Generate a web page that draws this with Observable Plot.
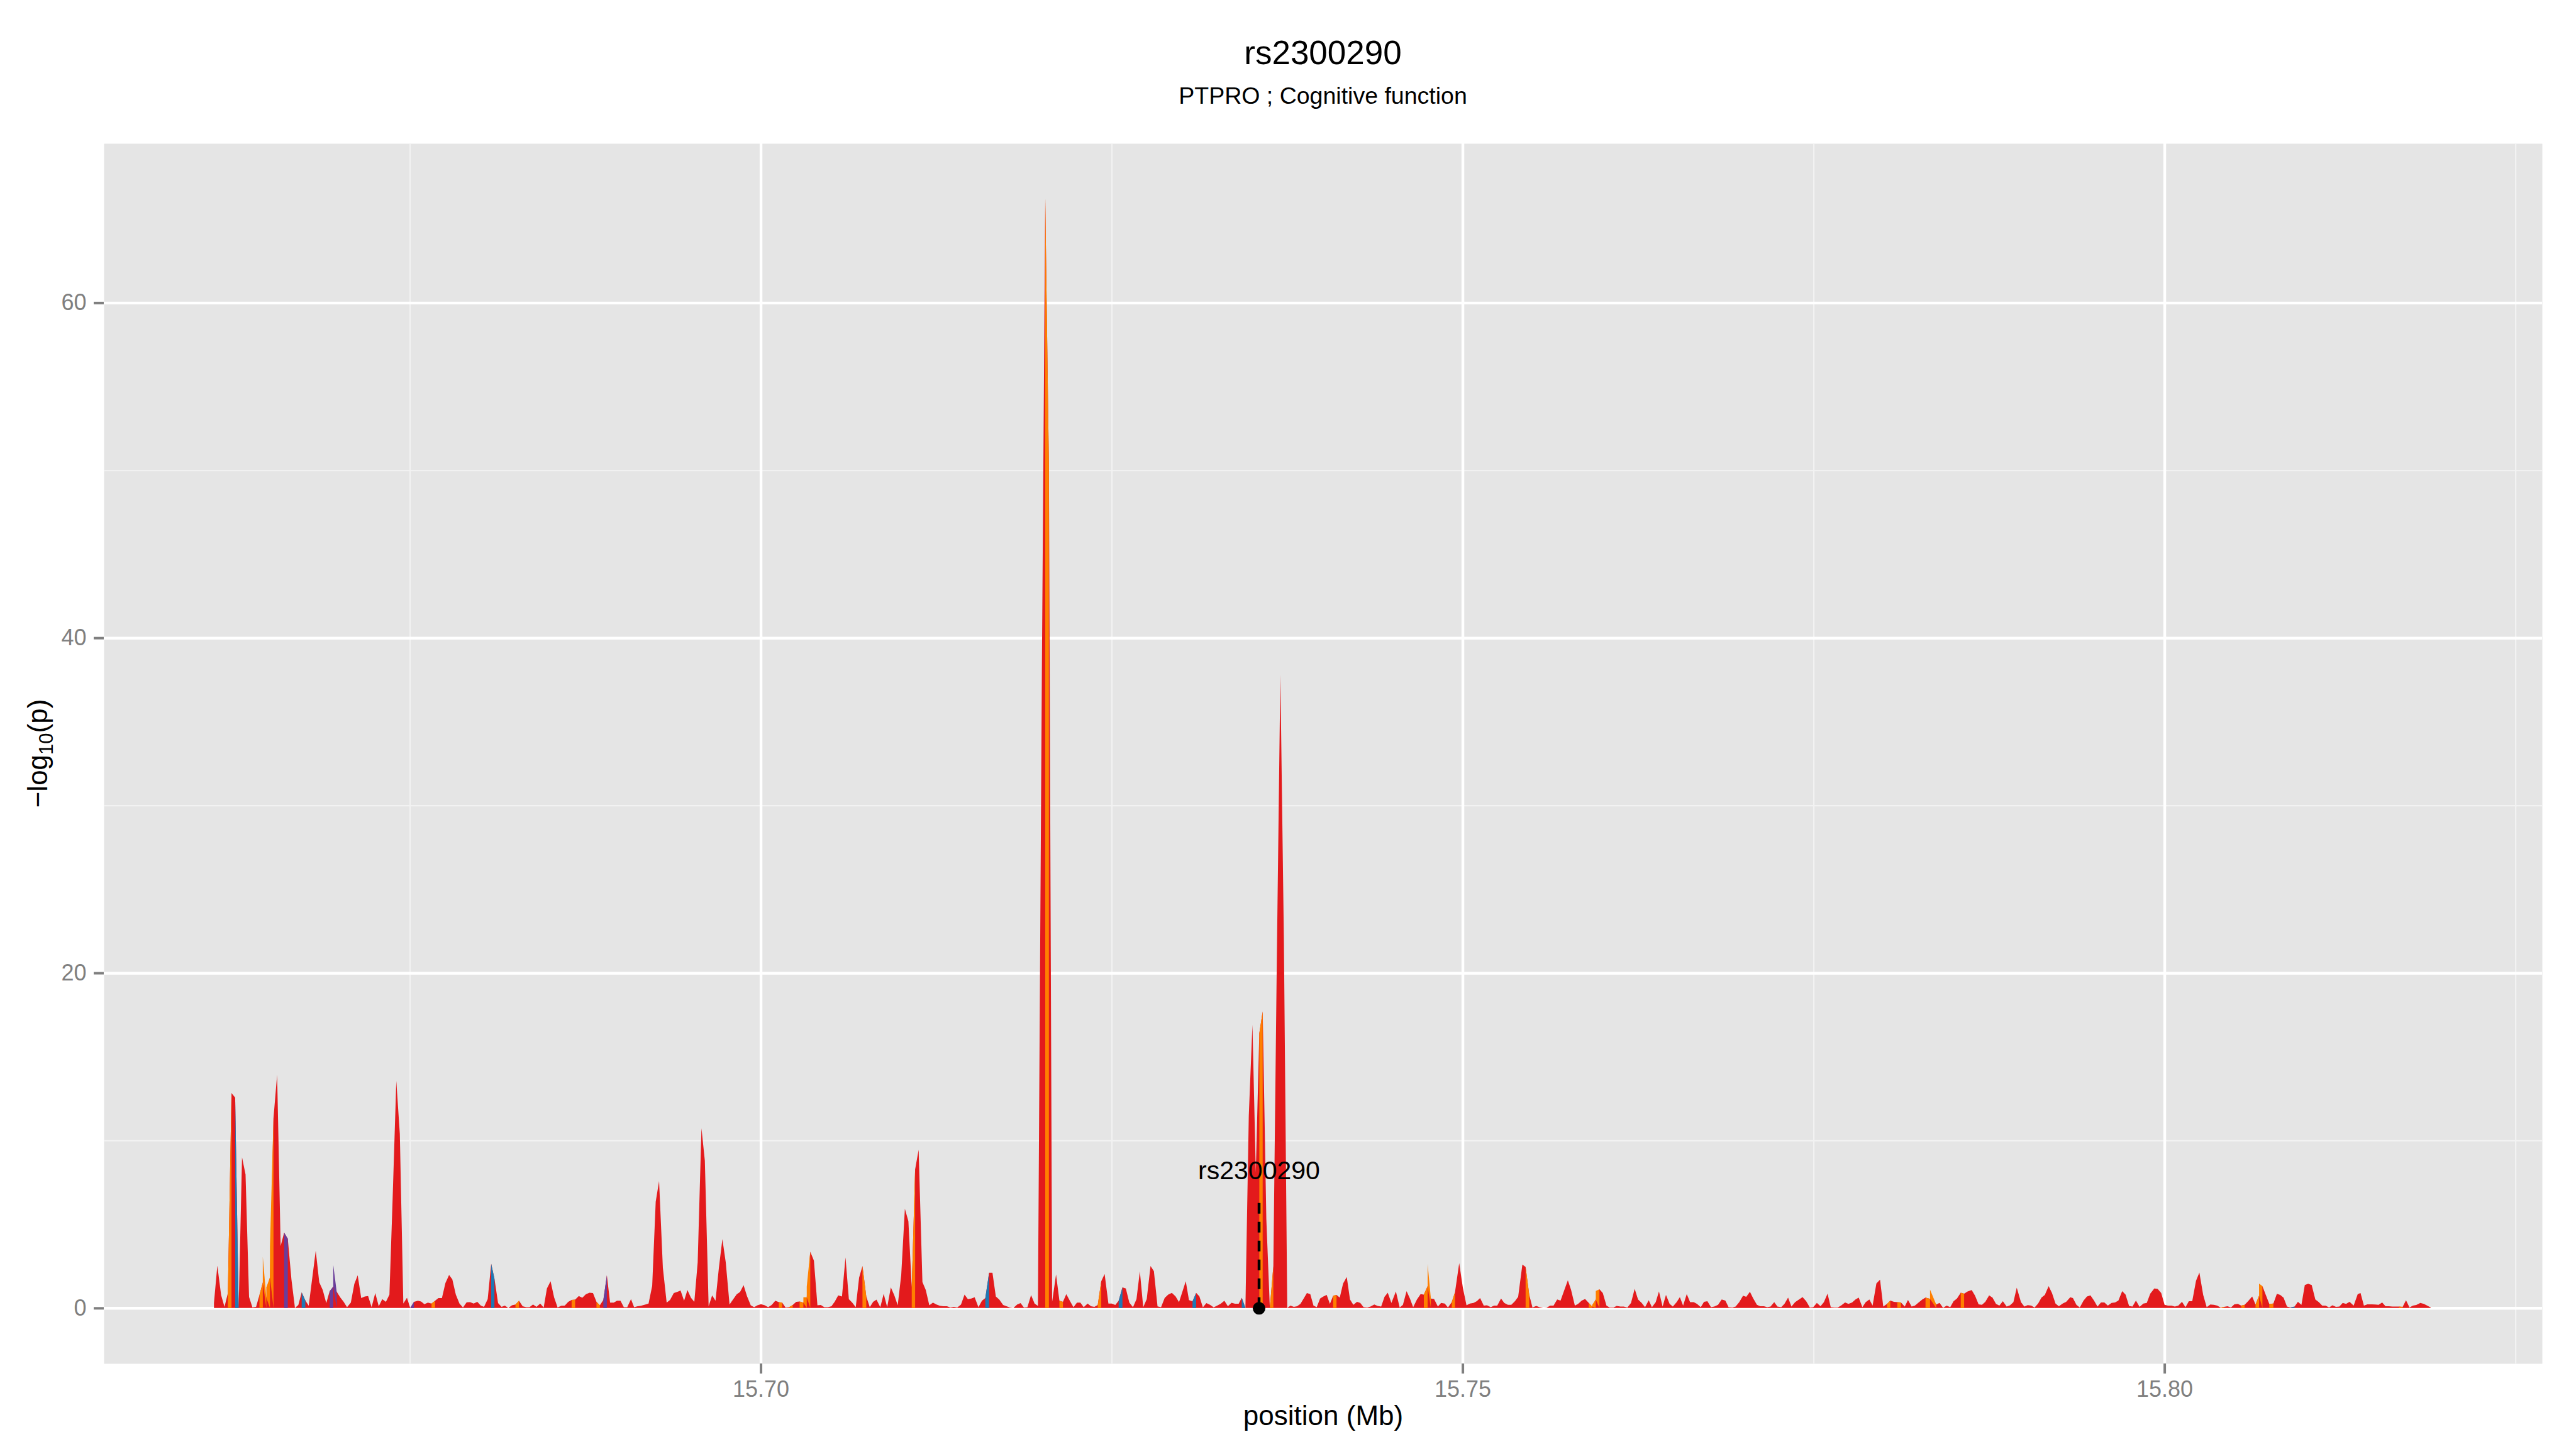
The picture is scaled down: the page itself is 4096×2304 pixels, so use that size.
<!DOCTYPE html>
<html>
<head>
<meta charset="utf-8">
<script src="https://cdn.jsdelivr.net/npm/d3@7"></script>
<script src="https://cdn.jsdelivr.net/npm/@observablehq/plot@0.6"></script>
<style>
  html, body { margin: 0; padding: 0; background: #ffffff; overflow: hidden; }
  #fig { position: relative; width: 4096px; height: 2304px; overflow: hidden; background: #ffffff;
         font-family: "Liberation Sans", Arial, Helvetica, sans-serif; color: #000; }
  #title { position: absolute; left: 165px; width: 3877px; top: 57px; font-size: 53px; line-height: 53px; text-align: center; }
  #subtitle { position: absolute; left: 165px; width: 3877px; top: 134px; font-size: 37.5px; line-height: 37.5px; text-align: center; }
  #chart { position: absolute; left: 0; top: 190px; }
</style>
</head>
<body>
<div id="fig">
  <div id="title"></div>
  <div id="subtitle"></div>
  <div id="chart"></div>
</div>
<script>
// ---------------- text ----------------
const titleText = "rs2300290";
const subtitleText = "PTPRO ; Cognitive function";
const xAxisTitle = "position (Mb)";

// ---------------- axes / ticks ----------------
const xDomain = [15.6532, 15.8269];
const yDomain = [-3.31, 69.51];
const xMajorTicks = [15.70, 15.75, 15.80];
const xMinorTicks = [15.675, 15.725, 15.775, 15.825];
const yMajorTicks = [0, 20, 40, 60];
const yMinorTicks = [10, 30, 50];

// ---------------- LD colour classes ----------------
const ldClassNames = ["group 1", "group 2", "group 3", "group 4"];
const ldClassColors = ["#E31A1C", "#FF7F00", "#1F78B4", "#6A3D9A"];

// ---------------- SNP positions (Mb) ----------------
const positionMb = [
15.66105,15.66129,15.66156,15.66180,15.66204,15.66230,15.66256,15.66281,15.66305,15.66330,
15.66355,15.66379,15.66405,15.66429,15.66453,15.66478,15.66504,15.66529,15.66555,15.66580,
15.66605,15.66631,15.66657,15.66682,15.66706,15.66730,15.66756,15.66780,15.66830,15.66855,
15.66880,15.66905,15.66929,15.66955,15.66979,15.67004,15.67029,15.67053,15.67080,15.67105,
15.67129,15.67154,15.67180,15.67203,15.67228,15.67254,15.67279,15.67304,15.67330,15.67355,
15.67378,15.67404,15.67429,15.67454,15.67480,15.67503,15.67530,15.67558,15.67581,15.67604,
15.67629,15.67655,15.67680,15.67704,15.67729,15.67754,15.67780,15.67803,15.67828,15.67854,
15.67879,15.67905,15.67930,15.67955,15.67981,15.68006,15.68029,15.68055,15.68080,15.68103,
15.68129,15.68154,15.68177,15.68202,15.68228,15.68253,15.68278,15.68304,15.68329,15.68353,
15.68378,15.68403,15.68429,15.68454,15.68477,15.68503,15.68528,15.68553,15.68579,15.68604,
15.68629,15.68653,15.68678,15.68704,15.68729,15.68754,15.68780,15.68805,15.68830,15.68854,
15.68879,15.68904,15.68927,15.68953,15.68976,15.69001,15.69025,15.69049,15.69076,15.69098,
15.69123,15.69147,15.69171,15.69201,15.69227,15.69252,15.69276,15.69303,15.69330,15.69354,
15.69381,15.69405,15.69429,15.69454,15.69478,15.69503,15.69527,15.69551,15.69578,15.69602,
15.69629,15.69654,15.69678,15.69702,15.69727,15.69751,15.69778,15.69802,15.69829,15.69853,
15.69878,15.69902,15.69929,15.69953,15.69977,15.70002,15.70029,15.70053,15.70078,15.70104,
15.70129,15.70153,15.70177,15.70202,15.70228,15.70253,15.70277,15.70304,15.70328,15.70353,
15.70379,15.70404,15.70428,15.70453,15.70479,15.70504,15.70528,15.70552,15.70579,15.70604,
15.70628,15.70652,15.70677,15.70701,15.70725,15.70752,15.70777,15.70801,15.70825,15.70852,
15.70876,15.70901,15.70927,15.70952,15.70976,15.71001,15.71027,15.71052,15.71076,15.71100,
15.71125,15.71152,15.71176,15.71201,15.71227,15.71252,15.71276,15.71300,15.71327,15.71351,
15.71376,15.71400,15.71427,15.71452,15.71476,15.71500,15.71524,15.71551,15.71576,15.71600,
15.71627,15.71651,15.71675,15.71700,15.71727,15.71751,15.71775,15.71800,15.71827,15.71851,
15.71875,15.71900,15.71926,15.71951,15.71975,15.72003,15.72027,15.72053,15.72076,15.72104,
15.72128,15.72153,15.72177,15.72202,15.72228,15.72253,15.72277,15.72301,15.72329,15.72353,
15.72377,15.72401,15.72426,15.72450,15.72477,15.72501,15.72526,15.72550,15.72577,15.72601,
15.72626,15.72652,15.72677,15.72701,15.72725,15.72750,15.72777,15.72801,15.72827,15.72852,
15.72878,15.72903,15.72929,15.72955,15.72980,15.73028,15.73051,15.73076,15.73102,15.73125,
15.73150,15.73175,15.73201,15.73227,15.73252,15.73277,15.73303,15.73328,15.73354,15.73379,
15.73405,15.73427,15.73453,15.73477,15.73503,15.73527,15.73552,15.73576,15.73602,15.73627,
15.73652,15.73677,15.73702,15.73727,15.73751,15.73774,15.73798,15.73821,15.73845,15.73868,
15.73891,15.73915,15.73938,15.73961,15.73985,15.74008,15.74032,15.74055,15.74078,15.74102,
15.74125,15.74149,15.74175,15.74198,15.74222,15.74248,15.74271,15.74295,15.74321,15.74344,
15.74371,15.74394,15.74420,15.74444,15.74467,15.74493,15.74525,15.74552,15.74575,15.74601,
15.74625,15.74648,15.74675,15.74701,15.74724,15.74751,15.74774,15.74797,15.74824,15.74847,
15.74873,15.74896,15.74923,15.74946,15.74976,15.75002,15.75028,15.75052,15.75078,15.75101,
15.75125,15.75151,15.75174,15.75201,15.75224,15.75247,15.75274,15.75297,15.75323,15.75347,
15.75373,15.75396,15.75426,15.75449,15.75475,15.75498,15.75525,15.75548,15.75575,15.75598,
15.75624,15.75648,15.75674,15.75698,15.75724,15.75750,15.75773,15.75800,15.75823,15.75849,
15.75873,15.75899,15.75923,15.75949,15.75975,15.75999,15.76025,15.76048,15.76075,15.76098,
15.76124,15.76148,15.76174,15.76200,15.76226,15.76250,15.76276,15.76300,15.76326,15.76349,
15.76376,15.76399,15.76425,15.76449,15.76475,15.76498,15.76525,15.76548,15.76571,15.76597,
15.76621,15.76647,15.76670,15.76697,15.76720,15.76744,15.76770,15.76793,15.76820,15.76846,
15.76872,15.76895,15.76922,15.76945,15.76971,15.76998,15.77021,15.77047,15.77071,15.77097,
15.77121,15.77147,15.77170,15.77194,15.77220,15.77243,15.77270,15.77293,15.77319,15.77343,
15.77369,15.77392,15.77422,15.77448,15.77474,15.77498,15.77524,15.77550,15.77574,15.77600,
15.77623,15.77649,15.77673,15.77699,15.77725,15.77749,15.77775,15.77799,15.77822,15.77848,
15.77872,15.77898,15.77921,15.77948,15.77974,15.77997,15.78024,15.78047,15.78073,15.78097,
15.78123,15.78150,15.78173,15.78199,15.78222,15.78252,15.78275,15.78298,15.78330,15.78374,
15.78398,15.78423,15.78449,15.78474,15.78498,15.78522,15.78549,15.78573,15.78598,15.78627,
15.78651,15.78676,15.78700,15.78724,15.78751,15.78775,15.78800,15.78824,15.78849,15.78876,
15.78900,15.78924,15.78948,15.78978,15.79002,15.79026,15.79051,15.79075,15.79100,15.79124,
15.79148,15.79175,15.79199,15.79224,15.79248,15.79275,15.79300,15.79329,15.79348,15.79373,
15.79397,15.79424,15.79448,15.79473,15.79497,15.79523,15.79548,15.79572,15.79597,15.79623,
15.79648,15.79672,15.79699,15.79723,15.79748,15.79772,15.79797,15.79823,15.79850,15.79874,
15.79899,15.79928,15.79952,15.79977,15.80001,15.80025,15.80050,15.80074,15.80099,15.80125,
15.80150,15.80174,15.80198,15.80225,15.80249,15.80276,15.80301,15.80327,15.80352,15.80376,
15.80401,15.80425,15.80449,15.80474,15.80498,15.80523,15.80547,15.80571,15.80596,15.80625,
15.80649,15.80674,15.80698,15.80722,15.80747,15.80776,15.80801,15.80825,15.80849,15.80873,
15.80898,15.80927,15.80951,15.80976,15.81000,15.81024,15.81049,15.81075,15.81100,15.81124,
15.81148,15.81173,15.81197,15.81222,15.81246,15.81270,15.81294,15.81319,15.81348,15.81377,
15.81397,15.81421,15.81446,15.81478,15.81502,15.81526,15.81551,15.81575,15.81599,15.81624,
15.81648,15.81672,15.81697,15.81721,15.81746,15.81770,15.81794,15.81823,15.81848,15.81872,
15.81897
];

// ---------------- -log10(p) at each position ----------------
const negLog10P = [
0.3,2.53,0.77,0.07,0.88,12.83,12.56,0.02,8.99,7.97,
0.66,0.04,0.07,0.77,1.52,0.61,1.84,11.33,13.92,3.7,
4.5,4.13,1.7,0,0.18,0.93,0.45,0.13,3.42,1.54,
1.07,0.29,1.0,1.28,0.98,0.64,0.37,0.05,0.32,1.44,
1.95,0.59,0.69,0.72,0.05,0.89,0.11,0.53,0.37,0.8,
6.56,13.55,10.4,0.27,0.61,0,0.37,0.43,0.39,0.23,
0.32,0.27,0.43,0.59,0.59,1.49,1.97,1.71,0.8,0.27,
0.03,0.34,0.35,0.27,0.37,0.14,0.07,0.53,2.64,1.76,
0.29,0.07,0.14,0,0.16,0.21,0.43,0.11,0.05,0.05,
0.21,0.07,0.27,0.03,1.17,1.6,0.64,0.03,0.13,0.14,
0.37,0.48,0.5,0.72,0.61,0.82,0.91,0.89,0.37,0.16,
0.48,1.95,0.32,0.32,0.43,0.43,0.05,0.05,0.53,0.05,
0.11,0.13,0.19,0.27,1.33,6.35,7.58,2.4,0.32,0.48,
0.89,0.96,1.04,0.43,1.07,0.61,0.37,2.72,10.73,8.8,
0.11,0.75,0.43,2.4,4.11,2.72,0.21,0.5,0.82,0.96,
1.36,0.72,0.16,0.05,0.16,0.23,0.16,0.05,0.18,0.43,
0.35,0.32,0.03,0.05,0.18,0.37,0.39,0.32,0.64,3.36,
2.83,0.16,0.18,0.05,0.05,0.11,0.39,0.75,0.69,3.02,
0.53,0.32,0.05,1.81,2.51,0.69,0.05,0.37,0.5,0.05,
0.85,0.05,1.23,0.75,0.16,1.97,5.92,5.18,1.23,8.27,
9.44,1.55,1.07,0.16,0.32,0.21,0.13,0.11,0.11,0.03,
0.07,0.03,0.21,0.8,0.53,0.57,0.64,0.05,0.43,0.59,
2.1,2.1,0.69,0.5,0.18,0.11,0.03,0,0.21,0.29,
0.03,0.05,0.77,0.27,0.12,38,66.2,50.3,0.36,2.0,
0.43,0.37,0.83,0.43,0.05,0.32,0.32,0.05,0.27,0.11,
0.07,0.18,1.6,2.03,0.27,0.27,0.18,0.43,1.23,1.17,
0.32,0.05,0.53,2.19,0.05,0.53,2.51,2.2,0.1,0.05,
0.6,0.8,0.9,0.7,0.35,1.6,0.47,0.4,0.9,0.7,
0.04,0.29,0.19,0.04,0.14,0.26,0.43,0.11,0.31,0.26,
0.26,0.61,0,11.46,16.9,8.1,16.4,17.7,5.3,0,
2.5,21,37.8,22,0,0.14,0.07,0.11,0.25,0.57,
0.89,0.83,0.14,0.05,0.57,0.69,0.78,0.25,0.73,0.78,
0.62,1.47,1.85,0.51,0.19,0.37,0.3,0.05,0.03,0.09,
0.21,0.12,0.09,0.67,0.91,0.3,0.99,0.03,0.19,1.01,
0.57,0.05,0.51,0.83,0.8,1.31,0.57,0.54,0.09,0.3,
0.27,0.03,0.35,0.94,2.68,1.21,0.16,0.27,0.3,0.41,
0.59,0.14,0.16,0.05,0.14,0.14,0.57,0.3,0.19,0.19,
0.41,0.67,2.59,2.45,0.78,0.03,0.12,0.05,0,0.01,
0.14,0.14,0.51,0.44,1.05,1.65,1.08,0.14,0.25,0.44,
0.54,0.3,0.09,0.51,1.12,0.89,0.14,0.03,0.03,0.12,
0.09,0.09,0.03,0.3,1.15,0.51,0.3,0.05,0.46,0.05,
0.35,0.99,0.09,0.78,0.25,0.09,0.35,0.65,0.14,0.83,
0.35,0.35,0.25,0.05,0.37,0.41,0.05,0.09,0.19,0.51,
0.44,0.05,0.03,0.09,0.35,0.73,0.67,0.97,0.57,0.19,
0.11,0.11,0.05,0.09,0.35,0.09,0.05,0.25,0.62,0.09,
0.35,0.48,0.65,0.41,0.03,0.05,0.3,0.11,0.35,0.86,
0.05,0.03,0.03,0.16,0.33,0.25,0.33,0.51,0.62,0.05,
0.35,0.51,0.14,1.47,1.69,0.09,0.25,0.44,0.37,0.35,
0.33,0.09,0.48,0.09,0.14,0.35,0.51,0.62,0.55,0.21,
0.3,0.01,0.14,0.05,0.41,0.57,0.91,0.86,0.99,1.07,
0.73,0.22,0.19,0.37,0.75,0.62,0.25,0.14,0.41,0.09,
0.16,0.35,1.21,0.35,0.09,0.17,0.14,0.03,0.27,0.62,
0.78,1.31,0.89,0.27,0.11,0.27,0.37,0.64,0.59,0.19,
0.03,0.44,0.69,0.75,0.46,0.09,0.33,0.33,0.14,0.3,
0.33,0.44,1.01,0.8,0.12,0.09,0.44,0.07,0.27,0.3,
0.86,1.17,1.14,0.89,0.19,0.14,0.14,0.09,0.14,0.37,
0.05,0.41,0.41,1.63,2.11,0.78,0.05,0.21,0.19,0.14,
0.02,0.07,0.11,0.03,0.22,0.25,0.14,0.19,0.41,0.69,
0.21,0.73,1.31,0.78,0.25,0.27,0.85,0.78,0.61,0.09,
0.03,0.09,0.37,0.19,1.37,1.45,1.37,0.51,0.35,0.14,
0.14,0.03,0.16,0.07,0.09,0.3,0.25,0.37,0.14,0.83,
0.89,0.14,0.22,0.22,0.21,0.19,0.33,0.11,0.11,0.09,
0.09,0.09,0.07,0.46,0.03,0.14,0.18,0.3,0.25,0.14,
0.03
];

// ---------------- SNPs whose segment is not in group 1 (red) ----------------
const group2At = [15.66204,15.66429,15.66453,15.66478,15.66504,15.67655,15.68253,15.68653,15.68830,
  15.70129,15.70202,15.70277,15.70304,15.70328,15.70725,15.71076,15.72027,15.72128,15.72401,
  15.73552,15.73627,15.74078,15.74724,15.74751,15.74923,15.75449,15.75899,15.75923,15.75949,
  15.78024,15.78097,15.78298,15.78330,15.78549,15.80401,15.80547,15.80649,15.80674,15.80747,15.81672];
const group3At = [15.66256,15.66730,15.68080,15.71600,15.72550,15.73076,15.73427,15.80898];
const group4At = [15.66605,15.66929,15.66955,15.67503,15.68879];

// ---------------- highlighted SNP ----------------
const rsName = "rs2300290";
const rsPositionMb = 15.73548;
const rsLineTop = 6.5;
const rsLabelY = 8.2;

// ---------------- build tables ----------------
if (positionMb.length !== negLog10P.length) console.warn("length mismatch", positionMb.length, negLog10P.length);
const classOf = new Map();
group2At.forEach(p => classOf.set(p, ldClassNames[1]));
group3At.forEach(p => classOf.set(p, ldClassNames[2]));
group4At.forEach(p => classOf.set(p, ldClassNames[3]));
const snps = positionMb.map((x, i) => ({x, y: negLog10P[i], cls: classOf.get(x) || ldClassNames[0]}));
const segments = [];
snps.forEach((d, i) => {
  if (d.cls !== ldClassNames[0] && i + 1 < snps.length) {
    const n = snps[i + 1];
    segments.push({x: d.x, y: d.y, id: i, cls: d.cls}, {x: n.x, y: n.y, id: i, cls: d.cls});
  }
});
const rsSnp = [{x: rsPositionMb, top: rsLineTop, labelY: rsLabelY, name: rsName}];

document.getElementById("title").textContent = titleText;
document.getElementById("subtitle").textContent = subtitleText;

const W = 4096, H = 2114;
const mTop = 38, mBottom = 136, mLeft = 165, mRight = 54;
const font = "'Liberation Sans', Arial, Helvetica, sans-serif";

const chart = Plot.plot({
  width: W, height: H,
  marginTop: mTop, marginBottom: mBottom, marginLeft: mLeft, marginRight: mRight,
  style: {fontFamily: font, background: "transparent", overflow: "visible"},
  x: {domain: xDomain, axis: null},
  y: {domain: yDomain, axis: null},
  color: {type: "ordinal", domain: ldClassNames, range: ldClassColors},
  marks: [
    Plot.frame({fill: "#E5E5E5", stroke: "none"}),
    Plot.ruleX(xMinorTicks, {stroke: "#F2F2F2", strokeWidth: 2.2}),
    Plot.ruleY(yMinorTicks, {stroke: "#F2F2F2", strokeWidth: 2.2}),
    Plot.ruleX(xMajorTicks, {stroke: "#FFFFFF", strokeWidth: 4.4}),
    Plot.ruleY(yMajorTicks, {stroke: "#FFFFFF", strokeWidth: 4.4}),
    Plot.areaY(snps, {x: "x", y: "y", fill: ldClassColors[0]}),
    Plot.areaY(segments, {x: "x", y: "y", z: "id", fill: "cls"}),
    Plot.ruleX(rsSnp, {x: "x", y1: 0, y2: "top", stroke: "#000000", strokeWidth: 4.5, strokeDasharray: "17,13"}),
    Plot.dot(rsSnp, {x: "x", y: 0, r: 10, fill: "#000000", stroke: "none"}),
    Plot.text(rsSnp, {x: "x", y: "labelY", text: "name", fontSize: 41, fill: "#000000"}),
    Plot.axisX(xMajorTicks, {tickFormat: d3.format(".2f"), tickSize: 16, tickPadding: 11, fontSize: 36,
      color: "#7F7F7F", strokeWidth: 4, label: null}),
    Plot.axisY(yMajorTicks, {tickFormat: d3.format("d"), tickSize: 16, tickPadding: 12, fontSize: 36,
      color: "#7F7F7F", strokeWidth: 4, label: null}),
    Plot.text([xAxisTitle], {frameAnchor: "bottom", dy: 97, lineAnchor: "bottom", fontSize: 44, fill: "#000000"})
  ]
});

// y-axis title with a true subscript
const yMid = mTop + (H - mTop - mBottom) / 2;
const yt = d3.select(chart).append("text")
  .attr("transform", `translate(75,${yMid}) rotate(-90)`)
  .attr("text-anchor", "middle")
  .attr("font-size", 44)
  .attr("font-family", font)
  .attr("fill", "#000");
yt.append("tspan").text("\u2212log");
yt.append("tspan").attr("font-size", 31).attr("dy", 9).text("10");
yt.append("tspan").attr("dy", -9).text("(p)");

document.getElementById("chart").appendChild(chart);
</script>
</body>
</html>
